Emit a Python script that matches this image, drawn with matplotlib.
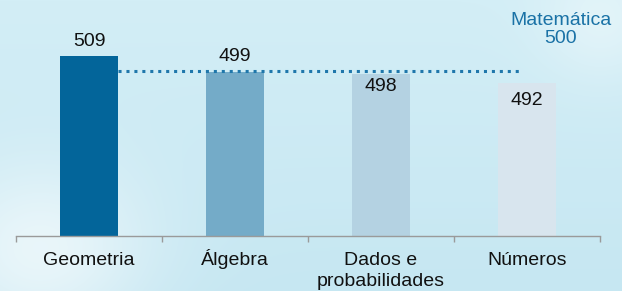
import numpy as np
import matplotlib.pyplot as plt
from matplotlib.colors import to_rgb
from matplotlib.transforms import blended_transform_factory

# Desempenho em Matemática por unidade temática
categorias = ['Geometria', 'Álgebra', 'Dados e\nprobabilidades', 'Números']
pontuacoes = [509, 499, 498, 492]
media_matematica = 500
rotulo_media = 'Matemática'

cores = ['#03659a', '#74abc8', '#b4d2e2', '#d8e5ee']
# deslocamento vertical (pt) do rótulo de cada barra em relação ao topo
desloc_rotulo = [11, 11, -9, -12]

plt.rcParams['font.family'] = ['Liberation Sans', 'DejaVu Sans']
fs = 14

fig = plt.figure(figsize=(6.22, 2.91), dpi=100)

# fundo azul claro com brilho suave
h, w = 291, 622
yy, xx = np.mgrid[0:h, 0:w]
base = np.array(to_rgb('#c6e7f2'))
top = np.array(to_rgb('#d3eef6'))
t = (yy / h)[..., None]
img = top * (1 - t) + base * t
glow = np.exp(-(((xx - 40) / 110.0) ** 2 + ((yy - 250) / 90.0) ** 2))[..., None]
glow2 = np.exp(-(((xx - 600) / 60.0) ** 2 + ((yy - 20) / 60.0) ** 2))[..., None]
img = img * (1 - 0.6 * glow) + 0.6 * glow
img = img * (1 - 0.35 * glow2) + 0.35 * glow2
bg = fig.add_axes([0, 0, 1, 1])
bg.imshow(img, aspect='auto', extent=[0, 1, 0, 1])
bg.axis('off')

ax = fig.add_axes([16 / 622, 55 / 291, 584 / 622, 236 / 291])
ax.patch.set_alpha(0)
x = np.arange(len(categorias))
ax.bar(x, pontuacoes, width=0.4, color=cores, zorder=2)

ax.set_xlim(-0.5, len(categorias) - 0.5)
ax.set_ylim(396, 396 + 236 / 1.59)

ax.plot([0.2, 2.96], [media_matematica, media_matematica], linestyle=(0, (1, 1.6)),
        color='#1f77ab', linewidth=2.2, zorder=3)
ax.text(3.23, media_matematica + 26, f'{rotulo_media}\n{media_matematica}', ha='center',
        va='center', color='#1a72a6', fontsize=fs, linespacing=1.05)

for xi, v, d in zip(x, pontuacoes, desloc_rotulo):
    ax.annotate(str(v), (xi, v), xytext=(0, d), textcoords='offset points',
                ha='center', va='center', fontsize=fs, color='#111111', zorder=4)

for s in ['top', 'right', 'left']:
    ax.spines[s].set_visible(False)
ax.spines['bottom'].set_color('#9a9a9a')
ax.spines['bottom'].set_linewidth(1)
ax.set_yticks([])
ax.set_xticks([])
ax.set_xticks(np.arange(-0.5, len(categorias)), minor=True)
ax.tick_params(axis='x', which='minor', length=4, color='#9a9a9a', width=1, labelbottom=False)

# rótulos das categorias alinhados pela linha de base
trans = blended_transform_factory(ax.transData, ax.transAxes)
for xi, c in zip(x, categorias):
    for i, linha in enumerate(c.split('\n')):
        ax.text(xi, -(29 + 21 * i) / 236, linha, transform=trans, ha='center',
                va='baseline', fontsize=fs, color='#111111')

fig.savefig('out.png', dpi=100)
